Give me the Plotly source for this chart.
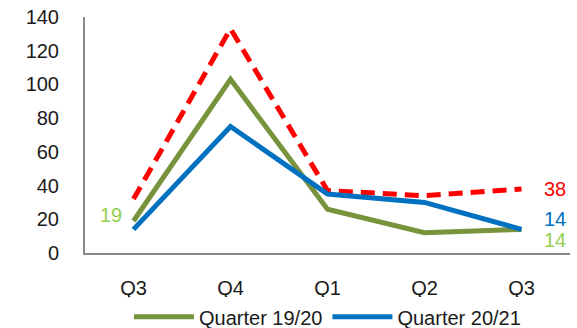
import plotly.graph_objects as go

categories = ["Q3", "Q4", "Q1", "Q2", "Q3 "]
tick_labels = ["Q3", "Q4", "Q1", "Q2", "Q3"]
quarter_1920 = [19, 103, 26, 12, 14]
quarter_2021 = [14, 75, 35, 30, 14]
target = [32, 133, 37, 34, 38]
y_ticks = [0, 20, 40, 60, 80, 100, 120, 140]

FONT = "Liberation Sans Narrow, Arial Narrow, Liberation Sans, Arial"
FS = 20
GREEN = "#77933C"
BLUE = "#0070C0"
RED = "#FF0000"
LABEL_GREEN = "#92D050"

fig = go.Figure()
fig.add_trace(go.Scatter(x=categories, y=target, mode="lines", name="Target",
                         line=dict(color=RED, width=5, dash="14px,8px"), showlegend=False))
fig.add_trace(go.Scatter(x=categories, y=quarter_1920, mode="lines", name="Quarter 19/20",
                         line=dict(color=GREEN, width=5)))
fig.add_trace(go.Scatter(x=categories, y=quarter_2021, mode="lines", name="Quarter 20/21",
                         line=dict(color=BLUE, width=5)))

# data labels
fig.add_annotation(x=categories[0], y=quarter_1920[0], text=str(quarter_1920[0]), showarrow=False,
                   xanchor="right", xshift=-10, yshift=6, font=dict(color=LABEL_GREEN, size=FS, family=FONT))
fig.add_annotation(x=categories[-1], y=target[-1], text=str(target[-1]), showarrow=False,
                   xanchor="left", xshift=20, font=dict(color=RED, size=FS, family=FONT))
fig.add_annotation(x=categories[-1], y=quarter_2021[-1], text=str(quarter_2021[-1]), showarrow=False,
                   xanchor="left", xshift=20, yshift=10, font=dict(color=BLUE, size=FS, family=FONT))
fig.add_annotation(x=categories[-1], y=quarter_1920[-1], text=str(quarter_1920[-1]), showarrow=False,
                   xanchor="left", xshift=20, yshift=-11, font=dict(color=LABEL_GREEN, size=FS, family=FONT))

fig.update_layout(
    width=577, height=328,
    margin=dict(l=85, r=7, t=17, b=75, autoexpand=False),
    paper_bgcolor="white", plot_bgcolor="white",
    font=dict(family=FONT, size=FS, color="#1a1a1a"),
    xaxis=dict(type="category", tickvals=categories, ticktext=tick_labels,
               showline=True, linecolor="#898989", linewidth=2, showgrid=False,
               ticks="", range=[-0.5, 4.5], ticklabelstandoff=16),
    yaxis=dict(range=[0, 140], tickvals=y_ticks, showline=True, linecolor="#898989",
               linewidth=2, showgrid=False, zeroline=False, ticks="", ticklabelstandoff=20),
    legend=dict(orientation="h", x=0.5, xanchor="center", y=-0.27, yanchor="middle",
                font=dict(size=FS, family=FONT), itemwidth=60, tracegroupgap=0),
    showlegend=True,
)

fig.write_html("out.html")
